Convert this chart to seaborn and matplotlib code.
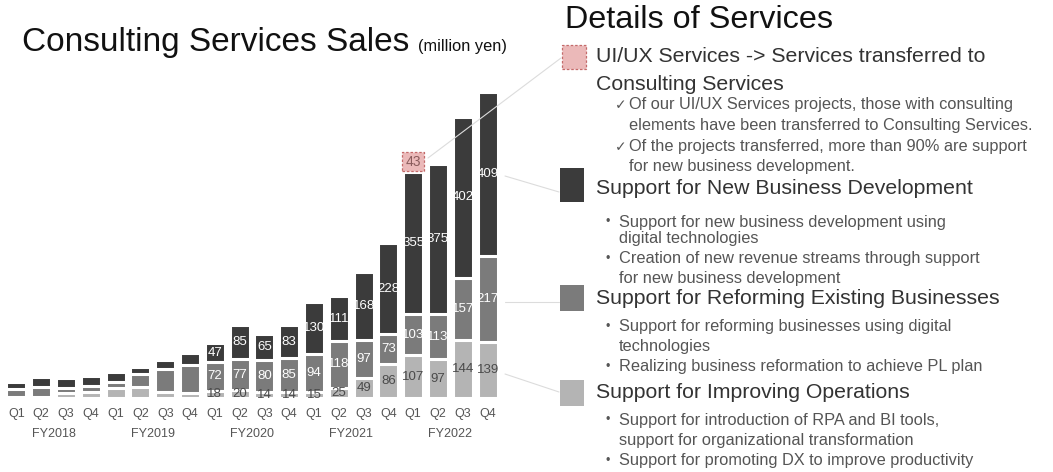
import matplotlib
matplotlib.use("Agg")
import matplotlib.pyplot as plt
from matplotlib.patches import Rectangle
from matplotlib.lines import Line2D
import seaborn as sns
import pandas as pd
import numpy as np

sns.set_theme(style="white")
plt.rcParams["font.family"] = ["Liberation Sans", "DejaVu Sans"]

# ---- data (million yen) ----
years = ["FY2018", "FY2019", "FY2020", "FY2021", "FY2022"]
quarters = ["Q1", "Q2", "Q3", "Q4"]
new_business = [18, 26, 24, 27, 27, 18, 22, 30, 47, 85, 65, 83, 130, 111, 168, 228, 355, 375, 402, 409]
reforming = [20, 25, 14, 13, 14, 33, 57, 70, 72, 77, 80, 85, 94, 118, 97, 73, 103, 113, 157, 217]
operations = [2, 2, 12, 16, 25, 27, 16, 12, 18, 20, 14, 14, 15, 25, 49, 86, 107, 97, 144, 139]
uiux_transfer = [0, 0, 0, 0, 0, 0, 0, 0, 0, 0, 0, 0, 0, 0, 0, 0, 43, 0, 0, 0]
first_labeled = 8  # value labels start from FY2020 Q1

periods = [f"{y} {q}" for y in years for q in quarters]
df = pd.DataFrame({
    "period": periods,
    "operations": operations,
    "reforming": reforming,
    "new_business": new_business,
})
df["cum_ops"] = df["operations"]
df["cum_ref"] = df["cum_ops"] + df["reforming"]
df["cum_new"] = df["cum_ref"] + df["new_business"]

C_DARK = "#3b3b3b"
C_MID = "#7b7b7b"
C_LIGHT = "#b4b4b4"
C_PINK = "#ebb9b9"
C_PINK_EDGE = "#c46a6a"
C_LINE = "#dcdcdc"

W, H = 1053, 472
fig = plt.figure(figsize=(W / 100, H / 100), dpi=100)

def fx(px):
    return px / W

def fy(py):
    return 1 - py / H

# ---- stacked bar chart ----
base_px = 398
px_per_unit = 0.40
ax = fig.add_axes([fx(4), fy(base_px), fx(496), base_px / H])
for col, color in [("cum_new", C_DARK), ("cum_ref", C_MID), ("cum_ops", C_LIGHT)]:
    sns.barplot(data=df, x="period", y=col, order=periods, color=color,
                width=0.8, edgecolor="white", linewidth=2.2, saturation=1,
                errorbar=None, ax=ax)

# transferred UI/UX projects on top of the stack
pos = np.arange(len(periods))
for i, v in enumerate(uiux_transfer):
    if v > 0:
        ax.bar(pos[i], v + 4, bottom=df["cum_new"].iloc[i] + 2, width=0.88,
               color=C_PINK, edgecolor=C_PINK_EDGE, linewidth=0.9,
               linestyle=(0, (2, 1.5)))
        ax.text(pos[i], df["cum_new"].iloc[i] + 4 + v / 2, str(v),
                ha="center", va="center", fontsize=10, color="#8a5c5c")

ax.set_xlim(-0.5, len(periods) - 0.5)
ax.set_ylim(0, base_px / px_per_unit)
for s in ax.spines.values():
    s.set_visible(False)
ax.set_yticks([])
ax.set_ylabel("")
ax.set_xlabel("")
ax.set_xticks(pos)
ax.set_xticklabels(quarters * len(years), fontsize=9, color="#555555")
ax.tick_params(axis="x", length=0, pad=7)

# value labels
for i in range(first_labeled, len(periods)):
    o, r, n = operations[i], reforming[i], new_business[i]
    ax.text(i, o / 2, str(o), ha="center", va="center", fontsize=9.5, color="#4a4a4a")
    ax.text(i, o + r / 2, str(r), ha="center", va="center", fontsize=9.5, color="white")
    ax.text(i, o + r + n / 2, str(n), ha="center", va="center", fontsize=9.5, color="white")

# fiscal-year group labels
for k, y in enumerate(years):
    ax.text(4 * k + 1.5, -36 / px_per_unit, y, ha="center", va="center",
            fontsize=9, color="#555555")

# ---- title ----
fig.text(fx(22), fy(42), "Consulting Services Sales", fontsize=24, color="#111111",
         ha="left", va="center")
fig.text(fx(418), fy(47), "(million yen)", fontsize=11.8, color="#111111",
         ha="left", va="center")

# ---- right-hand description panel ----
fig.text(fx(565), fy(20), "Details of Services", fontsize=23.3, color="#111111",
         ha="left", va="center")

def square(x, y0, y1, face, edge=None, ls="-"):
    r = Rectangle((fx(x), fy(y1)), fx(24), (y1 - y0) / H, transform=fig.transFigure,
                  facecolor=face, edgecolor=edge if edge else face,
                  linewidth=0.9 if edge else 0, linestyle=ls)
    fig.add_artist(r)

square(562, 45, 69, C_PINK, C_PINK_EDGE, (0, (2, 1.5)))
square(560, 168, 202, C_DARK)
square(560, 285, 311, C_MID)
square(560, 380, 406, C_LIGHT)

head_kw = dict(fontsize=15.3, color="#333333", ha="left", va="center")
body_kw = dict(fontsize=11.8, color="#555555", ha="left", va="center")

fig.text(fx(596), fy(57), "UI/UX Services -> Services transferred to", **head_kw)
fig.text(fx(596), fy(85), "Consulting Services", **head_kw)
checks = [
    (105, "\u2713", "Of our UI/UX Services projects, those with consulting"),
    (125, None, "elements have been transferred to Consulting Services."),
    (147, "\u2713", "Of the projects transferred, more than 90% are support"),
    (167, None, "for new business development."),
]
for y, mark, txt in checks:
    if mark:
        fig.text(fx(615), fy(y), mark, fontsize=10, color="#555555", ha="left",
                 va="center", family="DejaVu Sans")
    fig.text(fx(629), fy(y), txt, **body_kw)

fig.text(fx(596), fy(189), "Support for New Business Development", **head_kw)
fig.text(fx(596), fy(298), "Support for Reforming Existing Businesses", **head_kw)
fig.text(fx(596), fy(392), "Support for Improving Operations", **head_kw)

bullets = [
    (222, True, "Support for new business development using"),
    (239, False, "digital technologies"),
    (259, True, "Creation of new revenue streams through support"),
    (278, False, "for new business development"),
    (327, True, "Support for reforming businesses using digital"),
    (347, False, "technologies"),
    (367, True, "Realizing business reformation to achieve PL plan"),
    (420, True, "Support for introduction of RPA and BI tools,"),
    (441, False, "support for organizational transformation"),
    (461, True, "Support for promoting DX to improve productivity"),
]
for y, b, txt in bullets:
    if b:
        fig.text(fx(605), fy(y), "\u2022", fontsize=9, color="#555555",
                 ha="left", va="center")
    fig.text(fx(619), fy(y), txt, **body_kw)

# ---- connector lines from bars to descriptions ----
for (x0, y0), (x1, y1) in [((428, 158), (561, 58)),
                           ((505, 176), (559, 192)),
                           ((505, 302), (559, 302)),
                           ((505, 374), (559, 392))]:
    fig.add_artist(Line2D([fx(x0), fx(x1)], [fy(y0), fy(y1)], transform=fig.transFigure,
                          color=C_LINE, linewidth=0.8))

fig.savefig("out.png", dpi=100, facecolor="white")
